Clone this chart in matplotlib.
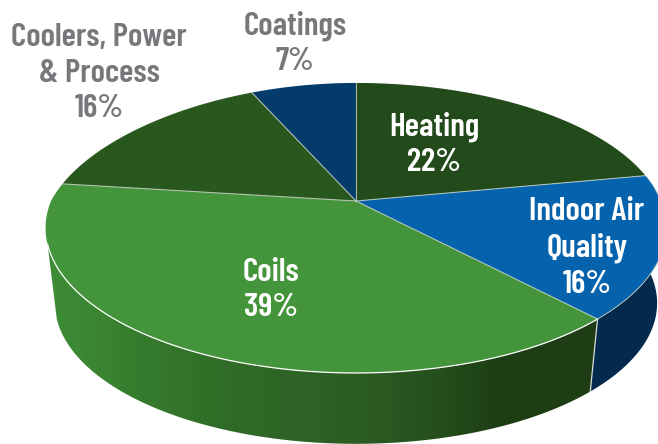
import matplotlib
matplotlib.use("Agg")
import matplotlib.pyplot as plt
import matplotlib.colors as mcolors
from matplotlib.patches import Polygon
import numpy as np

labels = ["Heating", "Indoor Air\nQuality", "Coils", "Coolers, Power\n& Process", "Coatings"]
shares = [22, 16, 39, 16, 7]
top_colors = ["#234a1a", "#0563ad", "#43943a", "#29581f", "#033c6b"]
wall_colors = ["#1f3d14", "#032a4c", "#43943a", "#29581f", "#033c6b"]
text_colors = ["white", "white", "white", "#77787b", "#77787b"]
label_pos = [(434, 144), (587, 248), (271, 290), (99, 73), (295, 43)]

# wall shade along x (pixels)
shade_x = [47, 70, 120, 200, 300, 380, 450, 500, 592]
shade_rgb = ["#3e8c36", "#3d8a35", "#38802f", "#317029", "#2e6326", "#2a5a22", "#234c1a", "#1d3d14", "#1f3d14"]

# centre and perspective of the pie, image pixels
cx, cy = 356, 201
rx, ry, k = 305, 140, 0.186
cx2, cy2, s = 356, 277, 0.97
font_list = ["Barlow Condensed", "Roboto Condensed", "Liberation Sans", "DejaVu Sans"]


def top_xy(deg):
    t = np.radians(deg)
    u, v = np.sin(t), np.cos(t)
    d = 1 + k * v
    # back left of the pie sits a bit to the right
    skew = 18 * np.where(u < 0, np.maximum(-u * v, 0), 0)
    return cx + rx * u / d + skew, cy - ry * v / d


def low_xy(deg):
    x, y = top_xy(deg)
    return cx2 + s * (x - cx), cy2 + s * (y - cy)


def wall_poly(a, b):
    angles = np.linspace(a, b, 200)
    x1, y1 = top_xy(angles)
    x2, y2 = low_xy(angles)
    return np.c_[np.r_[x1, x2[::-1]], np.r_[y1, y2[::-1]]]


fig = plt.figure(figsize=(6.58, 4.44), dpi=100)
ax = fig.add_axes([0, 0, 1, 1])

edges = np.cumsum([0] + shares) * 3.6
shade_vals = np.array([mcolors.to_rgb(c) for c in shade_rgb])

# side walls, only the part that faces the viewer
ax.add_patch(Polygon(wall_poly(85, edges[2]), color=wall_colors[1], lw=0, zorder=2))

grad_x = np.arange(40, 600)
grad = np.stack([np.interp(grad_x, shade_x, shade_vals[:, j]) for j in range(3)], axis=-1)[None, :, :]
im = ax.imshow(grad, extent=[40, 600, 444, 180], aspect="auto", zorder=2, interpolation="bilinear")
clip = Polygon(wall_poly(edges[2], 253), transform=ax.transData, fc="none", ec="none")
ax.add_patch(clip)
im.set_clip_path(clip)

ax.set_xlim(0, 658)
ax.set_ylim(444, 0)
ax.axis("off")

# line between blue and green walls
xa, ya = top_xy(edges[2])
xb, yb = low_xy(edges[2])
ax.plot([xa, xb], [ya, yb], color="#d8dcd6", lw=0.9, zorder=3)

# top of the pie
for i in range(len(shares)):
    angles = np.linspace(edges[i], edges[i + 1], 200)
    xs, ys = top_xy(angles)
    ax.fill(np.r_[cx, xs], np.r_[cy, ys], color=top_colors[i], lw=0, zorder=3)
    ax.plot([cx, xs[0]], [cy, ys[0]], color="#c8d0c6", lw=0.8, alpha=0.8, zorder=4)

# white rim over the wall
xs, ys = top_xy(np.linspace(136.8, 253, 300))
ax.plot(xs, ys, color="white", lw=0.9, zorder=4)
xs, ys = top_xy(np.linspace(85, 136.8, 100))
ax.plot(xs, ys, color="#c8d0c6", lw=0.6, zorder=4)

for i in range(len(shares)):
    ax.text(label_pos[i][0], label_pos[i][1], "%s\n%d%%" % (labels[i], shares[i]),
            ha="center", va="center", color=text_colors[i], fontsize=24,
            fontweight=600, family=font_list,
            linespacing=1.27, zorder=5)

fig.savefig("out.png", dpi=100)
